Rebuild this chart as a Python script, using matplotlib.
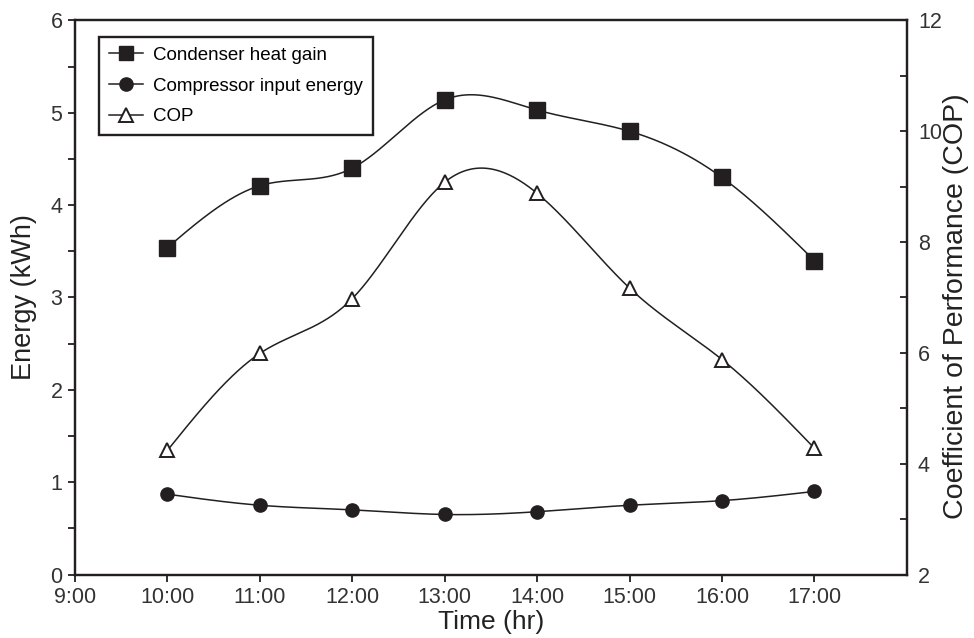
import numpy as np
import matplotlib
matplotlib.use('Agg')
import matplotlib.pyplot as plt

plt.rcParams['font.family'] = ['Liberation Sans', 'DejaVu Sans']

#%% data read hourly from 10:00 to 17:00

hours = [10, 11, 12, 13, 14, 15, 16, 17]
hour_labels = ['9:00', '10:00', '11:00', '12:00', '13:00', '14:00', '15:00', '16:00', '17:00']
condenser_gain = [3.54, 4.21, 4.40, 5.14, 5.03, 4.80, 4.30, 3.40]   # kWh
compressor_input = [0.87, 0.75, 0.70, 0.65, 0.68, 0.75, 0.80, 0.90]  # kWh
cop = [4.24, 5.99, 6.98, 9.08, 8.88, 7.17, 5.88, 4.28]


def natural_spline(x, y, n=400):
    # natural cubic spline through the points, used only for the drawn curve
    x = np.asarray(x, float)
    y = np.asarray(y, float)
    h = np.diff(x)
    m = len(x)
    A = np.zeros((m, m))
    r = np.zeros(m)
    A[0, 0] = A[-1, -1] = 1.0
    for i in range(1, m - 1):
        A[i, i - 1] = h[i - 1]
        A[i, i] = 2 * (h[i - 1] + h[i])
        A[i, i + 1] = h[i]
        r[i] = 6 * ((y[i + 1] - y[i]) / h[i] - (y[i] - y[i - 1]) / h[i - 1])
    M = np.linalg.solve(A, r)
    xs = np.linspace(x[0], x[-1], n)
    k = np.clip(np.searchsorted(x, xs) - 1, 0, m - 2)
    t0 = x[k + 1] - xs
    t1 = xs - x[k]
    hk = h[k]
    ys = (M[k] * t0**3 + M[k + 1] * t1**3) / (6 * hk) \
        + (y[k] / hk - M[k] * hk / 6) * t0 \
        + (y[k + 1] / hk - M[k + 1] * hk / 6) * t1
    return xs, ys


#%% plot the figure

ink = '#231f20'
fig = plt.figure(figsize=(9.74, 6.38), dpi=100, facecolor='white')
ax = fig.add_axes([0.077, 0.0995, 0.854, 0.8685])
ax2 = ax.twinx()

lw = 1.1
xs, ys = natural_spline(hours, condenser_gain)
ax.plot(xs, ys, color=ink, lw=lw)
ax.plot(hours, condenser_gain, ls='none', marker='s', ms=11, color=ink)
xs, ys = natural_spline(hours, compressor_input)
ax.plot(xs, ys, color=ink, lw=lw)
ax.plot(hours, compressor_input, ls='none', marker='o', ms=9.5, color=ink)
xs, ys = natural_spline(hours, cop)
ax2.plot(xs, ys, color=ink, lw=lw)
ax2.plot(hours, cop, ls='none', marker='^', ms=10, mfc='white', mec=ink, mew=1.4)

# legend handles (line + marker)
h1, = ax.plot([], [], color=ink, lw=lw, marker='s', ms=10.5)
h2, = ax.plot([], [], color=ink, lw=lw, marker='o', ms=9.5)
h3, = ax.plot([], [], color=ink, lw=lw, marker='^', ms=10, mfc='white', mec=ink, mew=1.4)
leg = ax.legend([h1, h2, h3], ['Condenser heat gain', 'Compressor input energy', 'COP'],
                loc='upper left', bbox_to_anchor=(0.029, 0.970), borderaxespad=0,
                fontsize=13.5, handlelength=1.8, handletextpad=0.55, labelspacing=0.72,
                borderpad=0.52, fancybox=False, framealpha=1)
leg.get_frame().set_edgecolor(ink)
leg.get_frame().set_linewidth(1.7)

ax.set_xlim(9, 18)
ax.set_ylim(0, 6)
ax2.set_ylim(2, 12)
ax.set_xticks(range(9, 18))
ax.set_xticklabels(hour_labels)
ax.set_yticks(range(0, 7))
ax.set_yticks(np.arange(0.5, 6, 1.0), minor=True)
ax2.set_yticks(range(2, 13, 2))
ax2.set_yticks(range(3, 12, 2), minor=True)

for a in (ax, ax2):
    for s in a.spines.values():
        s.set_linewidth(1.6)
        s.set_color(ink)
ax.tick_params(axis='both', which='both', direction='out', length=5, width=1.3,
               colors=ink, labelcolor='#333333', labelsize=15.5, pad=4)
ax2.tick_params(axis='y', which='both', direction='in', length=5, width=1.3,
                colors=ink, labelcolor='#333333', labelsize=15.5, pad=8)

ax.set_xlabel('Time (hr)', fontsize=19, color='#222222')
ax.set_ylabel('Energy (kWh)', fontsize=19.5, color='#222222')
ax2.set_ylabel('Coefficient of Performance (COP)', fontsize=20.5, color='#222222')
ax.xaxis.set_label_coords(0.5, -0.064)
ax.yaxis.set_label_coords(-0.046, 0.5)
ax2.yaxis.set_label_coords(1.044, 0.484)

plt.savefig('out.png', dpi=100, facecolor='white')
